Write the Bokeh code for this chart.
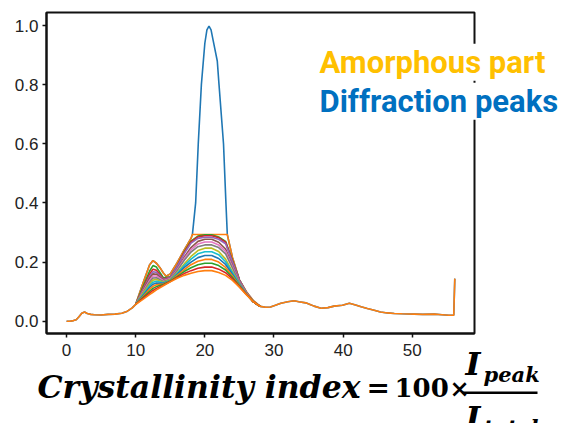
from bokeh.plotting import figure
from bokeh.models import Range1d, FixedTicker, PrintfTickFormatter, Label, BoxAnnotation
from bokeh.embed import file_html
from bokeh.resources import INLINE

# ---- XRD pattern (2-theta in degrees, normalised intensity) ----
# low-angle part, identical for raw pattern and amorphous fit
tt_low = [0.0, 0.5, 1.0, 1.4, 1.8, 2.2, 2.6, 3.0, 3.5, 4.0, 5.0, 6.0, 7.0, 8.0, 8.8, 9.5]
i_low = [0.000, 0.000, 0.002, 0.005, 0.015, 0.027, 0.031, 0.026, 0.023, 0.022,
         0.021, 0.023, 0.024, 0.027, 0.034, 0.045]

# high-angle part, identical for raw pattern and amorphous fit
tt_high = [28.8, 29.5, 30.2, 31.0, 32.0, 32.9, 33.6, 34.6, 35.3, 35.8, 36.8, 37.8,
           38.7, 39.9, 40.9, 41.8, 42.6, 43.5, 44.5, 45.4, 46.4, 47.4, 48.5, 50.3,
           51.5, 53.2, 54.3, 55.3, 56.0, 56.15]
i_high = [0.047, 0.048, 0.054, 0.061, 0.066, 0.069, 0.066, 0.062, 0.056, 0.051,
          0.044, 0.046, 0.051, 0.054, 0.061, 0.055, 0.049, 0.043, 0.037, 0.031,
          0.028, 0.026, 0.025, 0.024, 0.023, 0.024, 0.022, 0.020, 0.020, 0.144]

# raw pattern around the crystalline reflection
tt_peak = [10, 11, 12, 12.5, 13, 13.6, 14, 14.4, 15, 16, 17, 18, 18.2, 18.67, 19.05,
           19.5, 20.0, 20.3, 20.6, 20.9, 21.2, 21.8, 22.05, 22.7, 23.05, 23.25,
           24, 25, 26, 27, 28]
i_peak = [0.057, 0.125, 0.190, 0.205, 0.196, 0.178, 0.163, 0.152, 0.160, 0.198,
          0.240, 0.280, 0.293, 0.400, 0.600, 0.800, 0.940, 0.985, 0.998, 0.985,
          0.950, 0.880, 0.800, 0.600, 0.400, 0.293, 0.215, 0.140, 0.100, 0.070, 0.050]

# pattern clipped at the start of the amorphous-fit iterations
tt_clip = [10, 11, 12, 12.5, 13, 13.6, 14, 14.4, 15, 16, 17, 18, 18.2, 23.25,
           24, 25, 26, 27, 28]
i_clip = [0.057, 0.125, 0.190, 0.205, 0.196, 0.178, 0.163, 0.152, 0.160, 0.198,
          0.240, 0.280, 0.293, 0.293, 0.215, 0.140, 0.100, 0.070, 0.050]

# successive amorphous-fit iterations over the hump
tt_hump = [10, 11, 12, 12.5, 13, 14, 15, 16, 17, 18, 19, 20, 21, 22, 23, 24, 25, 26, 27, 28]
iter_01 = [0.057, 0.114, 0.169, 0.188, 0.183, 0.147, 0.150, 0.187, 0.234, 0.271, 0.288, 0.292, 0.292, 0.285, 0.270, 0.205, 0.139, 0.097, 0.066, 0.050]
iter_02 = [0.057, 0.108, 0.159, 0.176, 0.172, 0.143, 0.149, 0.186, 0.232, 0.268, 0.285, 0.289, 0.289, 0.282, 0.267, 0.203, 0.139, 0.097, 0.066, 0.050]
iter_03 = [0.057, 0.104, 0.151, 0.167, 0.165, 0.141, 0.148, 0.185, 0.228, 0.264, 0.280, 0.284, 0.284, 0.277, 0.262, 0.200, 0.138, 0.097, 0.066, 0.050]
iter_04 = [0.057, 0.101, 0.145, 0.160, 0.159, 0.139, 0.145, 0.177, 0.216, 0.249, 0.270, 0.277, 0.277, 0.267, 0.244, 0.188, 0.134, 0.095, 0.066, 0.050]
iter_05 = [0.057, 0.098, 0.138, 0.153, 0.153, 0.137, 0.144, 0.174, 0.211, 0.242, 0.261, 0.268, 0.268, 0.258, 0.236, 0.184, 0.132, 0.095, 0.066, 0.050]
iter_06 = [0.057, 0.095, 0.132, 0.146, 0.147, 0.134, 0.142, 0.171, 0.205, 0.234, 0.252, 0.258, 0.258, 0.249, 0.228, 0.179, 0.130, 0.094, 0.066, 0.050]
iter_07 = [0.057, 0.092, 0.126, 0.139, 0.141, 0.132, 0.140, 0.164, 0.193, 0.219, 0.239, 0.247, 0.247, 0.236, 0.210, 0.168, 0.126, 0.093, 0.066, 0.050]
iter_08 = [0.057, 0.088, 0.120, 0.132, 0.135, 0.130, 0.138, 0.161, 0.187, 0.210, 0.228, 0.235, 0.235, 0.225, 0.201, 0.164, 0.125, 0.093, 0.066, 0.050]
iter_09 = [0.057, 0.085, 0.114, 0.125, 0.129, 0.128, 0.137, 0.158, 0.181, 0.200, 0.215, 0.222, 0.222, 0.212, 0.192, 0.158, 0.123, 0.092, 0.066, 0.050]
iter_10 = [0.057, 0.082, 0.108, 0.118, 0.123, 0.126, 0.136, 0.155, 0.174, 0.191, 0.203, 0.209, 0.209, 0.200, 0.182, 0.153, 0.121, 0.092, 0.066, 0.050]
iter_11 = [0.057, 0.079, 0.101, 0.111, 0.117, 0.124, 0.135, 0.151, 0.168, 0.181, 0.191, 0.196, 0.196, 0.188, 0.173, 0.148, 0.119, 0.091, 0.066, 0.050]
iter_12 = [0.057, 0.076, 0.095, 0.104, 0.111, 0.122, 0.134, 0.148, 0.161, 0.171, 0.179, 0.183, 0.183, 0.176, 0.164, 0.143, 0.117, 0.091, 0.066, 0.050]
# converged amorphous background
amorphous_hump = [0.057, 0.073, 0.090, 0.098, 0.106, 0.120, 0.133, 0.145, 0.155, 0.162, 0.168, 0.171, 0.171, 0.165, 0.155, 0.138, 0.115, 0.090, 0.066, 0.050]

iterations = [iter_01, iter_02, iter_03, iter_04, iter_05, iter_06,
              iter_07, iter_08, iter_09, iter_10, iter_11, iter_12]

x_ticks = [0, 10, 20, 30, 40, 50]
y_ticks = [0.0, 0.2, 0.4, 0.6, 0.8, 1.0]

TAB10 = ["#1f77b4", "#ff7f0e", "#2ca02c", "#d62728", "#9467bd",
         "#8c564b", "#e377c2", "#7f7f7f", "#bcbd22", "#17becf"]

# axes box: data limits and where they sit on the canvas
X0, X1 = -2.9, 59.0
Y0, Y1 = -0.0416, 1.044
W, H = 561, 423
FL, FR, FT, FB = 46, 474, 12, 333


def dx(px):
    return X0 + (px - FL) * (X1 - X0) / (FR - FL)


def dy(py):
    return Y1 - (py - FT) * (Y1 - Y0) / (FB - FT)


# the plotting area spans the whole canvas so that the formula and the
# annotations may sit outside the axes box
p = figure(width=W, height=H, output_backend="svg", toolbar_location=None,
           x_range=Range1d(dx(0), dx(W)), y_range=Range1d(dy(H), dy(0)),
           min_border=0, min_border_left=0, min_border_right=0,
           min_border_top=0, min_border_bottom=0)
p.title.visible = False
p.grid.visible = False
p.background_fill_color = "white"
p.border_fill_color = "white"
p.outline_line_color = None

for ax in (p.xaxis[0], p.yaxis[0]):
    ax.axis_line_color = "#111111"
    ax.axis_line_width = 2
    ax.major_tick_line_color = "#111111"
    ax.major_tick_line_width = 1.5
    ax.major_tick_out = 4
    ax.major_tick_in = 0
    ax.minor_tick_line_color = None
    ax.major_label_text_font = "Liberation Sans"
    ax.major_label_text_font_size = "17px"
    ax.major_label_text_color = "#222222"
p.xaxis.ticker = FixedTicker(ticks=x_ticks)
p.yaxis.ticker = FixedTicker(ticks=y_ticks)
p.yaxis.formatter = PrintfTickFormatter(format="%.1f")
p.xaxis.fixed_location = Y0
p.yaxis.fixed_location = X0
p.xaxis.bounds = (X0, X1)
p.yaxis.bounds = (Y0, Y1)
p.xaxis.major_label_standoff = 6
p.yaxis.major_label_standoff = 4

# axes box
p.add_layout(BoxAnnotation(left=X0, right=X1, bottom=Y0, top=Y1, fill_color=None,
                           fill_alpha=0, line_color="#111111", line_alpha=1.0,
                           line_width=2))

LW = 1.6
# raw pattern
p.line(tt_low + tt_peak + tt_high, i_low + i_peak + i_high, line_color=TAB10[0], line_width=LW)
# clipped pattern
p.line(tt_clip, i_clip, line_color=TAB10[1], line_width=LW)
# iterations
for k, ys in enumerate(iterations):
    p.line(tt_hump, ys, line_color=TAB10[(k + 2) % 10], line_width=LW)
# final amorphous background over the whole range
p.line(tt_low + tt_hump + tt_high, i_low + amorphous_hump + i_high,
       line_color=TAB10[1], line_width=LW)


def text(px, baseline, s, size, font, style, color, bg=None):
    # px: left edge, baseline: text baseline (canvas pixels)
    lab = Label(x=dx(px), y=dy(baseline - 0.33 * size), text=s, text_font=font,
                text_font_style=style, text_font_size=f"{size}px", text_color=color,
                text_baseline="alphabetic")
    if bg:
        lab.background_fill_color = bg
    p.add_layout(lab)


# annotations
text(319, 72, "Amorphous part", 31, "Roboto", "bold", "#FFC000", "white")
text(319, 111, "Diffraction peaks", 31, "Roboto", "bold", "#0070C0", "white")

# crystallinity index formula
SERIF = "DejaVu Serif"
text(37, 396, "Crystallinity index", 31.5, SERIF, "bold italic", "black")
text(366, 396, "=", 28, SERIF, "bold", "black")
text(394, 396, "100", 26, SERIF, "bold", "black")
text(449, 396, "\u00d7", 24, SERIF, "bold", "black")
text(465, 374, "I", 32, SERIF, "bold italic", "black")
text(483, 381, "peak", 21, SERIF, "bold italic", "black")
text(465, 428, "I", 32, SERIF, "bold italic", "black")
text(483, 434, "total", 21, SERIF, "bold italic", "black")
p.add_layout(BoxAnnotation(left=dx(462), right=dx(537), top=dy(391), bottom=dy(393.5),
                           fill_color="black", fill_alpha=1.0, line_color=None))

open("out.html", "w").write(file_html(p, INLINE))
